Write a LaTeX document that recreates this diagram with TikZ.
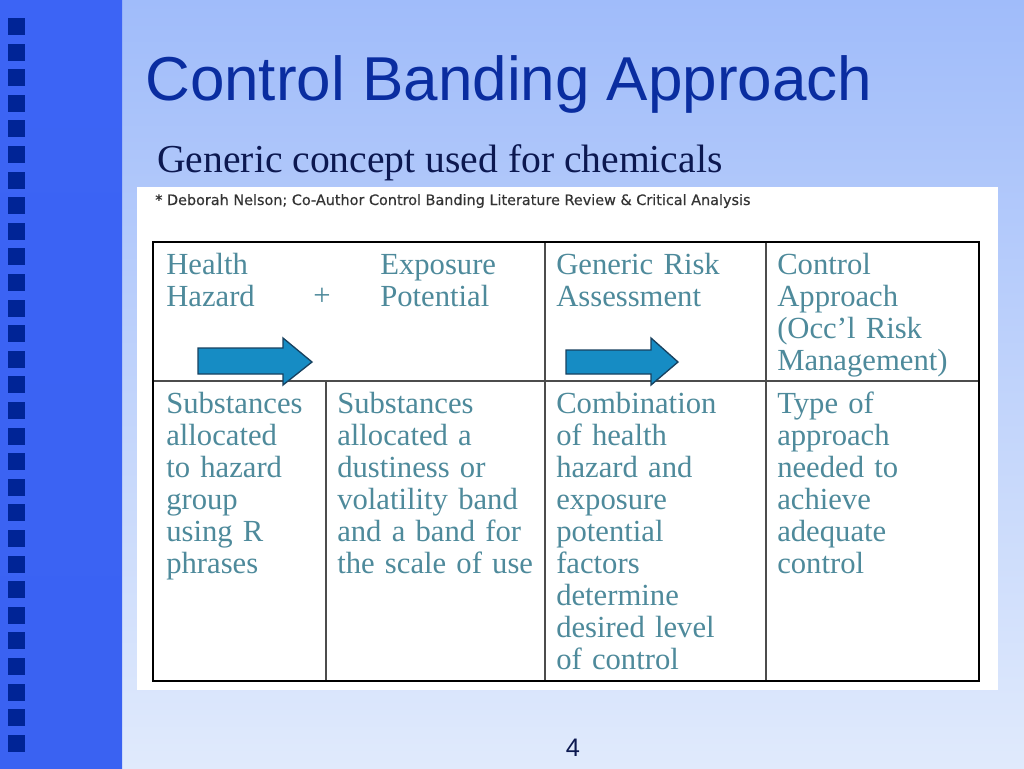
\documentclass[tikz,border=0pt]{standalone}
\usepackage{fontspec}
\setmainfont{Liberation Serif}
\setsansfont{Liberation Sans}
\newfontfamily\citefont[FakeBold=0.4]{DejaVu Sans}
\definecolor{bgtop}{RGB}{160,188,250}
\definecolor{bgbot}{RGB}{224,234,252}
\definecolor{striptop}{RGB}{60,100,245}
\definecolor{stripmid}{RGB}{186,197,250}
\definecolor{stripbot}{RGB}{58,98,242}
\definecolor{sqcol}{RGB}{0,36,150}
\definecolor{titlecol}{RGB}{10,45,160}
\definecolor{subcol}{RGB}{12,24,80}
\definecolor{cellcol}{RGB}{78,138,155}
\definecolor{arrfill}{RGB}{22,140,196}
\definecolor{arrline}{RGB}{24,66,96}
\begin{document}
\begin{tikzpicture}[x=0.75pt,y=-0.75pt,
  cell/.style={anchor=base west,inner sep=0pt,text width=210pt,align=left,
    font=\fontsize{23}{24}\selectfont,text=cellcol},
  blockarrow/.style={fill=arrfill,draw=arrline,line width=1pt,line join=miter},
  inner/.style={draw=black!70,line width=1.2pt},
  outer/.style={draw=black,line width=2.2pt}]
\useasboundingbox (0,0) rectangle (1024,768);
% backgrounds
\shade[top color=bgtop,bottom color=bgbot] (0,0) rectangle (1024,768);
\shade[top color=striptop,middle color=stripmid,bottom color=stripbot] (0,0) rectangle (122,768);
\foreach \i in {0,...,28}
  \fill[sqcol] (8,{18+\i*25.6}) rectangle (25,{35+\i*25.6});
% title
\node (title) [anchor=base west,inner sep=0pt,text=titlecol,
  font=\sffamily\fontsize{46.5}{50}\selectfont] at (145,100) {Control Banding Approach};
\node (subtitle) [anchor=base west,inner sep=0pt,text=subcol,
  font=\fontsize{29.7}{32}\selectfont] at (157,172) {Generic concept used for chemicals};
% white panel
\fill[white] (137,187) rectangle (998,690);
\node (cite) [anchor=base west,inner sep=0pt,text=black!80,
  font=\citefont\fontsize{10.8}{12}\selectfont] at (155,205)
  {* Deborah Nelson; Co-Author Control Banding Literature Review \& Critical Analysis};
% table
\draw[inner] (153,381) -- (979,381);
\draw[inner] (545,242) -- (545,681);
\draw[inner] (766,242) -- (766,681);
\draw[inner] (326,381) -- (326,681);
\draw[outer] (153,242) rectangle (979,681);
% arrows
\filldraw[blockarrow] (198,348) -- (283,348) -- (283,338) -- (312,362) -- (283,385) -- (283,374) -- (198,374) -- cycle;
\filldraw[blockarrow] (566,350) -- (651,350) -- (651,338) -- (678,362) -- (651,385) -- (651,374) -- (566,374) -- cycle;
% row 1
\node (hh) [cell] at (166,274) {Health\\Hazard};
\node (plus) [cell,text width=,anchor=base] at (322,305) {+};
\node (ep) [cell] at (380,274) {Exposure\\Potential};
\node (gra) [cell] at (556,274) {Generic Risk\\Assessment};
\node (ca) [cell] at (777,274) {Control\\Approach\\(Occ’l Risk\\Management)};
% row 2
\node (c1) [cell] at (166,413) {Substances\\allocated\\to hazard\\group\\using R\\phrases};
\node (c2) [cell] at (337,413) {Substances\\allocated a\\dustiness or\\volatility band\\and a band for\\the scale of use};
\node (c3) [cell] at (556,413) {Combination\\of health\\hazard and\\exposure\\potential\\factors\\determine\\desired level\\of control};
\node (c4) [cell] at (777,413) {Type of\\approach\\needed to\\achieve\\adequate\\control};
% page number
\node (pnum) [anchor=base,inner sep=0pt,text=subcol,font=\sffamily\fontsize{19}{20}\selectfont] at (573,756) {4};
\end{tikzpicture}
\end{document}
